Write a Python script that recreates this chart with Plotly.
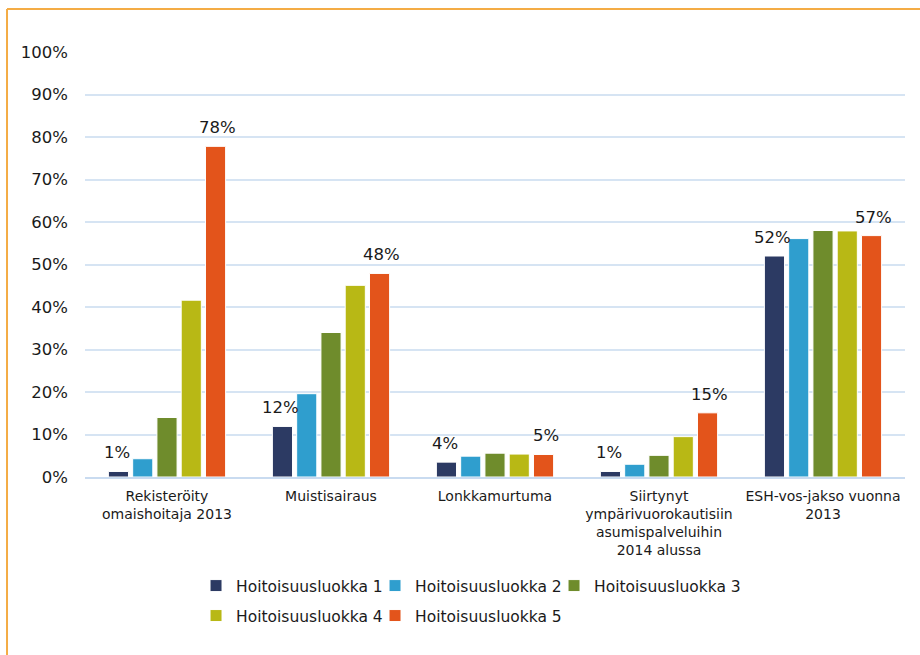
import plotly.graph_objects as go

categories = [
    "Rekisteröity<br>omaishoitaja 2013",
    "Muistisairaus",
    "Lonkkamurtuma",
    "Siirtynyt<br>ympärivuorokautisiin<br>asumispalveluihin<br>2014 alussa",
    "ESH-vos-jakso vuonna<br>2013",
]
series_names = [
    "Hoitoisuusluokka 1",
    "Hoitoisuusluokka 2",
    "Hoitoisuusluokka 3",
    "Hoitoisuusluokka 4",
    "Hoitoisuusluokka 5",
]
luokka1 = [1.3, 11.9, 3.5, 1.3, 52.0]
luokka2 = [4.3, 19.6, 4.9, 3.0, 56.1]
luokka3 = [14.0, 34.0, 5.6, 5.1, 58.0]
luokka4 = [41.6, 45.1, 5.4, 9.5, 57.9]
luokka5 = [77.8, 47.9, 5.3, 15.1, 56.8]
series_values = [luokka1, luokka2, luokka3, luokka4, luokka5]
colors = ["#2C3A63", "#2F9ECE", "#6F8C2C", "#B8B815", "#E3541B"]
y_ticks = list(range(0, 101, 10))

FONT = "Verdana, DejaVu Sans, sans-serif"
TXT = "#1a1a1a"

# legend rows: classes 1-3 on the first row, 4-5 on the second
legend_rows = ["legend", "legend", "legend", "legend2", "legend2"]
# fixed entry width for entries that are followed by another one in their row
legend_widths = [134, 134, 0, 134, 0]

fig = go.Figure()
for name, vals, col, lg, lw in zip(series_names, series_values, colors,
                                   legend_rows, legend_widths):
    fig.add_trace(go.Bar(
        x=categories, y=vals, name=name,
        marker=dict(color=col, line=dict(color="white", width=1)),
        legend=lg, legendwidth=lw,
        hoverinfo="skip",
    ))

# value labels for the first and last class
annotations = []
for vals, shift in ((luokka1, -50.5), (luokka5, 50.5)):
    for cat, v in zip(categories, vals):
        annotations.append(dict(
            x=cat, y=v, xref="x", yref="y", text=f"{round(v)}%",
            showarrow=False, xshift=shift, yshift=7, yanchor="bottom",
            font=dict(family=FONT, size=16.5, color=TXT),
        ))

# orange frame around the chart (left and top edges visible)
frame = "#F4AC45"
shapes = [
    dict(type="line", xref="paper", yref="paper", x0=-0.0951, x1=-0.0951,
         y0=1.1012, y1=-0.6, line=dict(color=frame, width=2)),
    dict(type="line", xref="paper", yref="paper", x0=-0.0951, x1=1.2,
         y0=1.1012, y1=1.1012, line=dict(color=frame, width=2)),
]

legend_style = dict(
    orientation="h", x=0.1354, xanchor="left", yanchor="top",
    font=dict(family=FONT, size=15.5, color=TXT),
    tracegroupgap=0, itemwidth=30,
)

fig.update_layout(
    width=920, height=655,
    margin=dict(l=85, r=15, t=52, b=178),
    paper_bgcolor="white", plot_bgcolor="white",
    barmode="group", bargap=0.26, bargroupgap=0.17,
    font=dict(family=FONT, size=16, color=TXT),
    showlegend=True,
    legend=dict(legend_style, y=-0.2165),
    legend2=dict(legend_style, y=-0.287),
    annotations=annotations,
    shapes=shapes,
)
fig.update_xaxes(
    showgrid=False, showline=True, linecolor="#C9DBF0", linewidth=2,
    tickfont=dict(family=FONT, size=14, color=TXT),
    ticks="", ticklabelstandoff=5, fixedrange=True,
)
fig.update_yaxes(
    range=[0, 100], tickvals=y_ticks, ticktext=[f"{t}%" for t in y_ticks],
    showgrid=True, gridcolor="#D6E4F3", gridwidth=1.5, zeroline=False,
    showline=False, ticks="", ticklabelstandoff=16,
    tickfont=dict(family=FONT, size=16.5, color=TXT), fixedrange=True,
)

fig.write_html("out.html")
